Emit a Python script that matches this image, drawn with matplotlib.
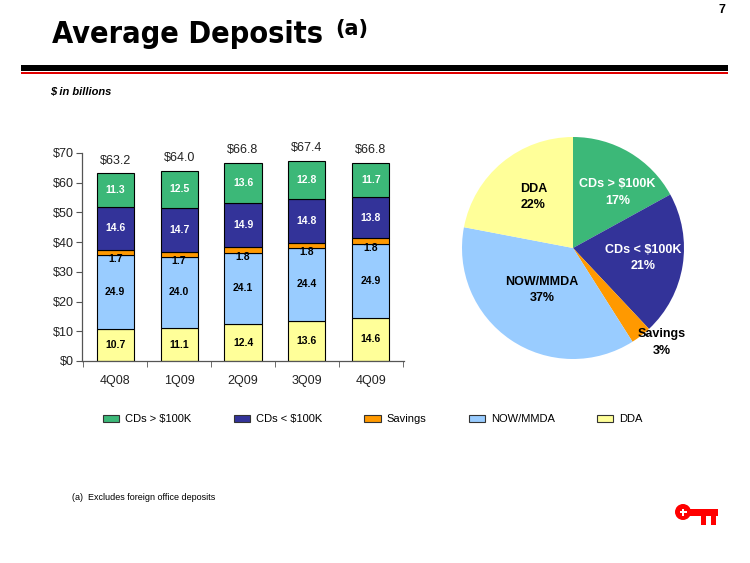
import matplotlib
matplotlib.use("Agg")
import matplotlib.pyplot as plt
import numpy as np
from matplotlib.patches import Rectangle, Circle, Patch

# ---------------- data ----------------
quarters = ["4Q08", "1Q09", "2Q09", "3Q09", "4Q09"]
series_names = ["DDA", "NOW/MMDA", "Savings", "CDs < $100K", "CDs > $100K"]
dda = [10.7, 11.1, 12.4, 13.6, 14.6]
now_mmda = [24.9, 24.0, 24.1, 24.4, 24.9]
savings = [1.7, 1.7, 1.8, 1.8, 1.8]
cds_under = [14.6, 14.7, 14.9, 14.8, 13.8]
cds_over = [11.3, 12.5, 13.6, 12.8, 11.7]
totals = ["$63.2", "$64.0", "$66.8", "$67.4", "$66.8"]
y_ticks = [0, 10, 20, 30, 40, 50, 60, 70]
y_tick_labels = ["$0", "$10", "$20", "$30", "$40", "$50", "$60", "$70"]

pie_labels = ["CDs > $100K", "CDs < $100K", "Savings", "NOW/MMDA", "DDA"]
pie_pct = [17, 21, 3, 37, 22]

colors = {
    "DDA": "#FFFF99",
    "NOW/MMDA": "#99CCFF",
    "Savings": "#FF9900",
    "CDs < $100K": "#333399",
    "CDs > $100K": "#3CB878",
}
label_colors = {
    "DDA": "black",
    "NOW/MMDA": "black",
    "Savings": "black",
    "CDs < $100K": "white",
    "CDs > $100K": "white",
}

W, H = 750, 563
fig = plt.figure(figsize=(7.5, 5.63), dpi=100)
fig.patch.set_facecolor("white")

ARIAL = ["Liberation Sans", "DejaVu Sans"]


def fx(px):
    return px / W


def fy(py):
    return 1 - py / H


# ---------------- decorations overlay ----------------
deco = fig.add_axes([0, 0, 1, 1], zorder=-1)
deco.set_xlim(0, W)
deco.set_ylim(H, 0)
deco.axis("off")
deco.add_patch(Rectangle((21, 65), 707, 6, color="black", lw=0))
deco.add_patch(Rectangle((21, 72), 707, 2, color="#E00000", lw=0))

fig.text(fx(52), fy(43), "Average Deposits", family=["DejaVu Sans"],
         fontstretch="condensed", fontweight="bold", fontsize=22, va="baseline", ha="left")
fig.text(fx(335), fy(35), "(a)", family=["DejaVu Sans"], fontweight="bold",
         fontsize=15, va="baseline", ha="left")
fig.text(fx(722), fy(10), "7", family=ARIAL, fontweight="bold", fontsize=9,
         va="center", ha="center")
fig.text(fx(50), fy(91), "$ in billions", family=ARIAL, fontweight="bold",
         fontstyle="italic", fontsize=8, va="center", ha="left")
fig.text(fx(72), fy(497), "(a)  Excludes foreign office deposits", family=ARIAL,
         fontsize=6.5, va="center", ha="left")

# key logo
kc = "#FF0000"
deco.add_patch(Circle((683, 512), 8.0, color=kc, lw=0))
deco.add_patch(Rectangle((679.5, 511), 7, 2.2, color="white", lw=0))
deco.add_patch(Rectangle((681.9, 508.5), 2.2, 7, color="white", lw=0))
deco.add_patch(Rectangle((689, 508.5), 29, 7, color=kc, lw=0))
deco.add_patch(Rectangle((701, 515), 5, 10, color=kc, lw=0))
deco.add_patch(Rectangle((711, 515), 5, 10, color=kc, lw=0))

# ---------------- bar chart ----------------
ax = fig.add_axes([fx(82), fy(361), fx(404) - fx(82), fy(153) - fy(361)])
x = np.arange(len(quarters))
stack = [dda, now_mmda, savings, cds_under, cds_over]
bottom = np.zeros(len(quarters))
bar_w = 0.58
for name, vals in zip(series_names, stack):
    vals = np.array(vals)
    ax.bar(x, vals, bar_w, bottom=bottom, color=colors[name], edgecolor="black",
           linewidth=0.8, zorder=2)
    for xi, b, v in zip(x, bottom, vals):
        if name == "Savings":
            ax.annotate(f"{v:.1f}", (xi, b), xytext=(0, -3), textcoords="offset points",
                        ha="center", va="center", fontsize=7.5, fontweight="bold",
                        family=ARIAL, color="black", zorder=3)
        else:
            ax.text(xi, b + v / 2, f"{v:.1f}", ha="center", va="center", fontsize=7.5,
                    fontweight="bold", family=ARIAL, color=label_colors[name], zorder=3)
    bottom = bottom + vals

for xi, top, lab in zip(x, bottom, totals):
    ax.annotate(lab, (xi, top), xytext=(0, 9), textcoords="offset points",
                ha="center", va="center", fontsize=9, family=ARIAL, color="#222222")

ax.set_xlim(-0.52, len(quarters) - 0.48)
ax.set_ylim(0, 70)
ax.set_yticks(y_ticks)
ax.set_yticklabels(y_tick_labels, family=ARIAL, fontsize=9, color="#222222")
ax.set_xticks(x)
ax.set_xticklabels(quarters, family=ARIAL, fontsize=9, color="#222222")
ax.set_xticks(np.arange(-0.5, len(quarters)), minor=True)
ax.tick_params(axis="x", which="major", length=0, pad=10)
ax.tick_params(axis="x", which="minor", length=4, direction="out", color="#555555")
ax.tick_params(axis="y", length=4, direction="out", color="#555555", pad=2)
for s in ["top", "right"]:
    ax.spines[s].set_visible(False)
for s in ["left", "bottom"]:
    ax.spines[s].set_color("#555555")
    ax.spines[s].set_linewidth(0.9)
ax.set_facecolor("none")

# ---------------- pie chart ----------------
pax = fig.add_axes([fx(462), fy(359), fx(684) - fx(462), fy(137) - fy(359)])
wedges, _ = pax.pie(pie_pct, colors=[colors[n] for n in pie_labels], startangle=90,
                    counterclock=False, radius=1.0,
                    wedgeprops=dict(linewidth=0))
pax.set_xlim(-1, 1)
pax.set_ylim(-1, 1)
pax.set_aspect("equal")
label_r = [0.64, 0.64, 1.17, 0.47, 0.58]
label_dang = [-8, 1, 5.5, -2, -1.5]
for w, n, p, r, da in zip(wedges, pie_labels, pie_pct, label_r, label_dang):
    ang = np.deg2rad((w.theta1 + w.theta2) / 2 + da)
    pax.text(r * np.cos(ang), r * np.sin(ang), f"{n}\n{p}%",
             ha="center", va="center", fontsize=9, fontweight="bold", family=ARIAL,
             color=label_colors[n], linespacing=1.45)

# ---------------- legend ----------------
legend_order = ["CDs > $100K", "CDs < $100K", "Savings", "NOW/MMDA", "DDA"]
handles = [Patch(facecolor=colors[n], edgecolor="#333333", linewidth=0.8) for n in legend_order]
fig.legend(handles, legend_order, loc="center left", bbox_to_anchor=(fx(103), fy(419)),
           ncol=5, frameon=False, prop={"family": ARIAL, "size": 8}, borderpad=0,
           borderaxespad=0, handlelength=1.45, handleheight=0.6, handletextpad=0.55,
           columnspacing=3.8)

fig.savefig("out.png", dpi=100, facecolor="white")
